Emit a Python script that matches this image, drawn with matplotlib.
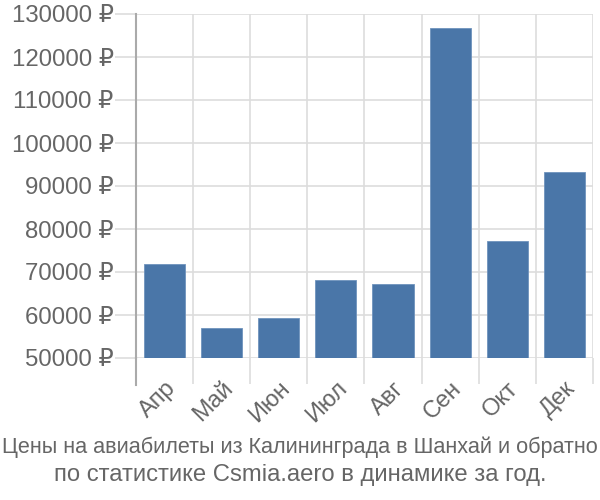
import matplotlib
matplotlib.use("Agg")
import matplotlib.pyplot as plt
import numpy as np

months = ["Апр", "Май", "Июн", "Июл", "Авг", "Сен", "Окт", "Дек"]
prices = [71900, 57000, 59300, 68200, 67200, 126700, 77300, 93300]
yticks = [50000, 60000, 70000, 80000, 90000, 100000, 110000, 120000, 130000]

plt.rcParams["font.family"] = ["Liberation Sans", "DejaVu Sans"]

textCol = "#666666"
gridCol = "#dddddd"

fig = plt.figure(figsize=(6, 5), dpi=100)
ax = fig.add_axes([0.2267, 0.284, 0.988 - 0.2267, 0.972 - 0.284])

x = np.arange(len(months))
ax.bar(x, prices, width=0.72, color="#4a76a8", edgecolor="#6f93bd", linewidth=0.6, zorder=3)

ax.set_xlim(-0.5, len(months) - 0.5)
ax.set_ylim(50000, 130000)

# y axis
ax.set_yticks(yticks)
ax.set_yticklabels([str(v) + " ₽" for v in yticks])
ax.tick_params(axis="y", length=15, width=1.2, color=gridCol, pad=1,
               labelsize=17.3, labelcolor=textCol)
ax.yaxis.grid(True, color=gridCol, linewidth=1.2, zorder=0)

# x axis: labels at centers, grid at band boundaries
ax.set_xticks(x)
ax.set_xticklabels(months, rotation=45, ha="right", va="top", rotation_mode="anchor")
ax.tick_params(axis="x", which="major", length=0, pad=14, labelsize=17, labelcolor=textCol)
ax.set_xticks(np.arange(-0.5, len(months)), minor=True)
ax.tick_params(axis="x", which="minor", length=19, width=1.2, color=gridCol)
ax.xaxis.grid(True, which="minor", color=gridCol, linewidth=1.2, zorder=0)

for s in ["top", "right", "bottom", "left"]:
    ax.spines[s].set_visible(False)
ax.plot([-0.5, -0.5], [0, 1], transform=ax.get_xaxis_transform(), color="#aaaaaa",
        linewidth=1.5, clip_on=False, zorder=4)
ax.plot([-0.5, -0.5], [0, -0.078], transform=ax.get_xaxis_transform(), color="#aaaaaa",
        linewidth=1.5, clip_on=False, zorder=4)

fig.text(0.5, 0.106, "Цены на авиабилеты из Калининграда в Шанхай и обратно",
         ha="center", va="center", fontsize=15.6, color=textCol)
fig.text(0.5, 0.05, "по статистике Csmia.aero в динамике за год.",
         ha="center", va="center", fontsize=17.2, color=textCol)

fig.savefig("out.png", dpi=100)
